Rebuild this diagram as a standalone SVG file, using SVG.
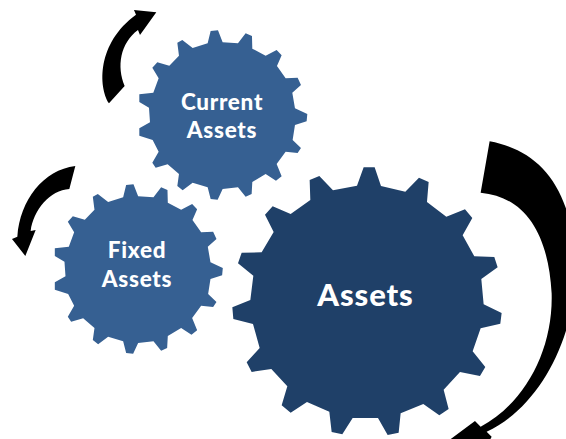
<svg xmlns="http://www.w3.org/2000/svg" width="566" height="439" viewBox="0 0 566 439">
<style>
text{font-family:"Lato","Open Sans",sans-serif;font-weight:900;fill:#fff;text-anchor:middle}
.s{font-size:22.5px;letter-spacing:.7px}
.l{font-size:31px;letter-spacing:.9px}
.a{fill:#000}
</style>
<rect width="566" height="439" fill="#fff"/>
<defs>
<polygon id="g" fill="#366092" transform="scale(.3333)" points="623,130 632,93 654,91 668,127 714,130 737,100 756,108 757,146 797,167 830,150 845,166 831,198 857,235 893,233 903,255 877,278 885,325 922,342 920,364 885,375 878,420 903,444 893,459 857,455 830,492 845,529 828,542 797,522 757,546 755,582 737,590 714,562 668,567 653,599 632,597 623,562 578,548 548,571 532,558 537,522 503,493 467,503 457,488 476,455 458,420 418,407 418,385 450,367 447,323 418,306 418,283 460,278 476,235 457,203 472,187 508,197 537,167 532,128 547,120 578,144"/>
</defs>
<g id="connectors">
<path class="a" transform="scale(.3333)" d="M327 310C295 260 290 130 408 44L402 30L469 37L420 105L414 90C360 130 350 200 374 258Z"/>
<path class="a" transform="translate(0,160) scale(.3333)" d="M226 18C130 30 60 120 52 230L36 237L76 288L107 210L92 213C100 150 150 90 208 87Z"/>
<path class="a" transform="translate(225,130) scale(.3333)" d="M794 34C935 60 1035 160 1050 380C1065 600 950 830 785 905L800 920L780 960L660 940L750 873L767 890C900 820 985 660 980 490C970 310 900 200 767 188Z"/>
</g>
<g id="node-current"><use href="#g"/><text class="s" x="222" y="110">Current</text><text class="s" x="222" y="138">Assets</text></g>
<g id="node-fixed"><use href="#g" transform="translate(-84.5,154)"/><text class="s" x="137" y="258">Fixed</text><text class="s" x="137" y="287">Assets</text></g>
<g id="node-assets">
<polygon fill="#1f4068" transform="translate(225,130) scale(.3333)" points="396,167 416,112 449,112 468,168 541,185 582,143 611,156 606,216 664,260 720,238 742,264 713,316 748,379 808,381 818,412 769,447 776,523 830,549 826,581 767,595 743,664 781,711 765,738 705,726 656,779 671,837 643,856 595,822 527,850 521,908 488,915 459,864 383,864 352,913 320,906 313,845 246,816 197,848 170,826 187,769 139,717 80,726 65,697 104,654 84,582 25,567 22,532 76,510 85,437 39,400 50,368 110,367 146,306 120,254 143,229 197,252 256,210 254,150 283,138 324,181"/>
<text class="l" x="365.5" y="306">Assets</text>
</g>
</svg>
